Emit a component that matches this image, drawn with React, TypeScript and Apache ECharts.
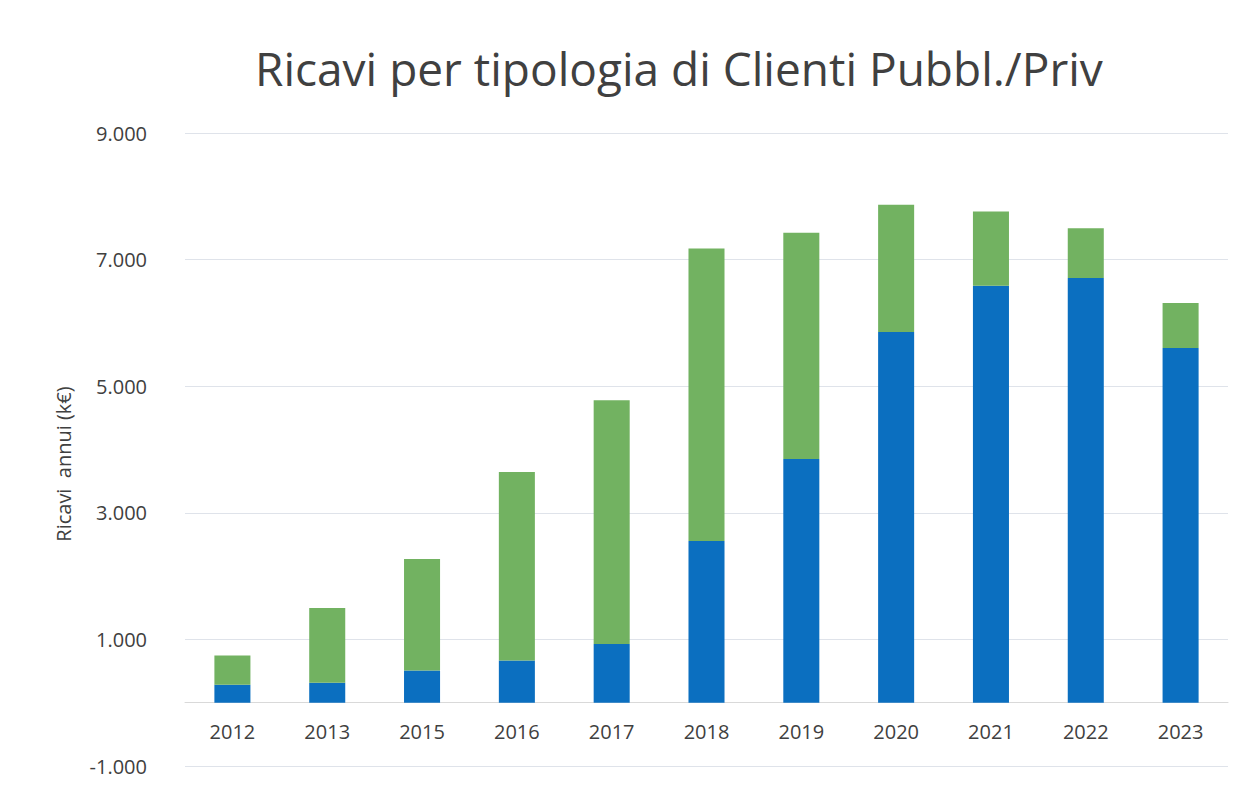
import React, { useEffect, useRef } from "react";
import * as echarts from "echarts";

const years = ["2012", "2013", "2015", "2016", "2017", "2018", "2019", "2020", "2021", "2022", "2023"];
const pubblici = [284, 315, 510, 667, 926, 2555, 3849, 5856, 6588, 6708, 5604];
const privati = [462, 1183, 1761, 2976, 3853, 4622, 3575, 2010, 1172, 789, 710];
const titleText = "Ricavi per tipologia di Clienti Pubbl./Priv";
const yAxisTitle = "Ricavi  annui (k€)";

const fmt = (v: number) => {
  const s = Math.abs(v).toString().replace(/\B(?=(\d{3})+(?!\d))/g, ".");
  return (v < 0 ? "-" : "") + s;
};

export default function App() {
  const ref = useRef<HTMLDivElement>(null);
  useEffect(() => {
    if (!ref.current) return;
    const chart = echarts.init(ref.current, null, { renderer: "svg" });
    chart.setOption({
      animation: false,
      backgroundColor: "#ffffff",
      textStyle: { fontFamily: "Open Sans" },
      title: {
        text: titleText,
        left: 250,
        top: 40,
        textStyle: { fontFamily: "Open Sans", fontSize: 46, fontWeight: "normal", color: "#404040" },
      },
      grid: { left: 185, right: 16, top: 133, bottom: 19, containLabel: false },
      xAxis: {
        type: "category",
        data: years,
        offset: -63.3,
        axisLine: { show: true, onZero: false, lineStyle: { color: "#d9d9d9" } },
        axisTick: { show: false },
        axisLabel: { fontSize: 20, color: "#404040", margin: 19, fontFamily: "Open Sans" },
      },
      yAxis: {
        type: "value",
        min: -1000,
        max: 9000,
        interval: 2000,
        axisLine: { show: false },
        axisTick: { show: false },
        splitLine: { lineStyle: { color: "#dfe3ea", width: 1 } },
        axisLabel: { fontSize: 20, color: "#404040", margin: 38, formatter: fmt, fontFamily: "Open Sans" },
      },
      graphic: [
        {
          type: "text",
          x: 63,
          y: 464,
          rotation: Math.PI / 2,
          style: {
            text: yAxisTitle,
            fontSize: 20,
            fill: "#404040",
            fontFamily: "Open Sans",
            align: "center",
            verticalAlign: "middle",
          },
        },
      ],
      series: [
        {
          name: "Pubblici",
          type: "bar",
          stack: "tot",
          data: pubblici,
          barWidth: "38%",
          itemStyle: { color: "#0b6fc0" },
        },
        {
          name: "Privati",
          type: "bar",
          stack: "tot",
          data: privati,
          barWidth: "38%",
          itemStyle: { color: "#72b261" },
        },
      ],
    });
    return () => chart.dispose();
  }, []);
  return <div ref={ref} style={{ position: "fixed", left: 0, top: 0, width: 1244, height: 785 }} />;
}
